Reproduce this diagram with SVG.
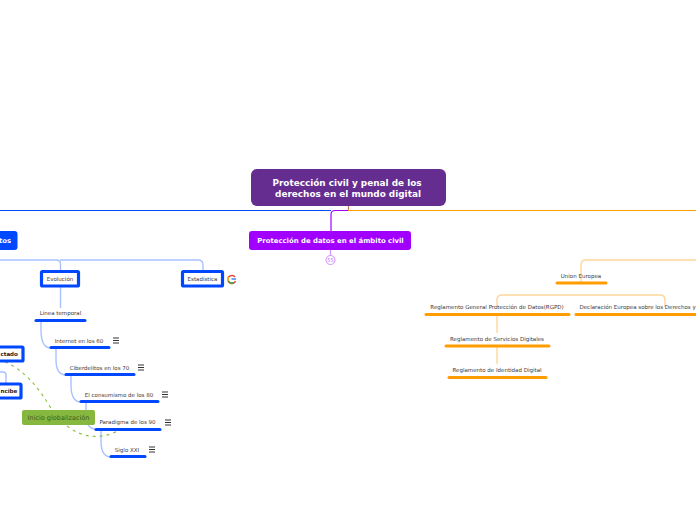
<svg xmlns="http://www.w3.org/2000/svg" width="696" height="520" viewBox="0 0 696 520">
<style>
text{font-family:"DejaVu Sans",Verdana,sans-serif;fill:#3a3a3a;font-size:5.500px;text-anchor:middle}
.b{font-weight:bold}
.w{fill:#fff;font-weight:bold}
.box{fill:#fff;stroke:#0048ff;stroke-width:3.200}
.ub{stroke:#0048ff;stroke-width:3;stroke-linecap:round;fill:none}
.uo{stroke:#ff9c00;stroke-width:3;stroke-linecap:round;fill:none}
.lb{stroke:#a9c1ff;stroke-width:1.400;fill:none}
.lo{stroke:#ffd699;stroke-width:1.400;fill:none}
.dash{stroke:#8fc24a;stroke-width:1.200;stroke-dasharray:3 4;fill:none}
.ham{stroke:#333;stroke-width:1}
</style>
<g id="connectors">
<path d="M0 210.500H331" stroke="#0048ff" stroke-width="1.200" fill="none"/>
<path d="M348 210.500H696" stroke="#ff9c00" stroke-width="1.200" fill="none"/>
<path d="M348.500 206V210" stroke="#c47a60" stroke-width="1.200" fill="none"/>
<path d="M348 210.500H335Q331 210.500 331 214.500V231" stroke="#a100ff" stroke-width="1.200" fill="none"/>
<path d="M330.500 250V255" stroke="#d08cff" stroke-width="1.200" fill="none"/>
<path class="lb" d="M0 260H56Q60.500 260 60.500 264V270M60 260H198Q203 260 203 265V270"/>
<path class="lb" d="M60.500 287V308"/>
<path class="lb" d="M41 321V330Q41 347 50 348"/>
<path class="lb" d="M56 349V360Q56 374 65 375"/>
<path class="lb" d="M71 376V385Q71 401 80 402"/>
<path class="lb" d="M86 403V412"/>
<path class="lb" d="M88 425Q91 429 95 429"/>
<path class="lb" d="M101 431V441Q101 456 110 457"/>
<path class="lb" d="M0 372H3Q6 372 6 375V384"/>
<path class="dash" d="M5 362Q30 372 52 410"/>
<path class="dash" d="M67 426Q90 444 118 431"/>
<path class="lo" d="M581 283V265Q581 260 586 260H696"/>
<path class="lo" d="M497 307V300Q497 295 502 295H660Q665 295 665 300V307"/>
<path class="lo" d="M497 316V333M497 347V364"/>
</g>
<g id="root"><rect x="251" y="169" width="195" height="37" rx="6" fill="#662d91"/><text class="w" x="347" y="186" style="font-size:8.900px">Protección civil y penal de los</text><text class="w" x="348" y="197" style="font-size:8.900px">derechos en el mundo digital</text></g>
<g id="proteccion-datos"><rect x="249" y="231" width="162" height="19" rx="3" fill="#a100ff"/><text class="w" x="330.500" y="243" style="font-size:6.900px">Protección de datos en el ámbito civil</text><circle cx="330.500" cy="260" r="4.500" fill="#fff" stroke="#d08cff"/><text x="330.500" y="262" style="font-size:5px;fill:#c070ff">55</text></g>
<g id="left-topic"><rect x="-40" y="231" width="57.500" height="19" rx="3" fill="#0048ff"/><text class="w" x="5" y="243" style="font-size:6.900px">tos</text></g>
<g id="evolucion"><rect class="box" x="41.500" y="271.500" width="37" height="14.500" rx="1"/><text x="60" y="281">Evolución</text></g>
<g id="estadistica"><rect class="box" x="182.500" y="271.500" width="40" height="14.500" rx="1"/><text x="202.500" y="281">Estadística</text>
<path d="M235 277A4 4 0 1 0 235.500 281" fill="none" stroke="#ea4335" stroke-width="1.500"/><path d="M231.500 279H236" stroke="#4285f4" stroke-width="1.500"/><path d="M228 277V281" stroke="#fbbc05" stroke-width="1.500"/><path d="M228.500 281A4 4 0 0 0 234 282.500" fill="none" stroke="#34a853" stroke-width="1.500"/></g>
<g id="linea"><text x="60.500" y="315">Línea temporal</text><path class="ub" d="M36 320.500H85"/></g>
<g id="internet"><text x="79" y="343">Internet en los 60</text><path class="ub" d="M51 347.500H109"/><path class="ham" d="M113 338H119M113 340.500H119M113 343H119"/></g>
<g id="ciber"><text x="99.500" y="370">Ciberdelitos en los 70</text><path class="ub" d="M66 374.500H134"/><path class="ham" d="M138 365H144M138 367.500H144M138 370H144"/></g>
<g id="consumismo"><text x="119" y="397">El consumismo de los 80</text><path class="ub" d="M81 401.500H158"/><path class="ham" d="M162 392H168M162 394.500H168M162 397H168"/></g>
<g id="paradigma"><text x="127.500" y="424">Paradigma de los 90</text><path class="ub" d="M96 429.500H160"/><path class="ham" d="M165 420H171M165 422.500H171M165 425H171"/></g>
<g id="siglo"><text x="127" y="452">Siglo XXI</text><path class="ub" d="M111 456.500H145"/><path class="ham" d="M149 447H155M149 449.500H155M149 452H155"/></g>
<g id="afectado"><rect class="box" x="-30" y="347" width="53" height="14" rx="1"/><text class="b" x="0.500" y="356" style="fill:#222;text-anchor:start">ctado</text></g>
<g id="incibe"><rect class="box" x="-30" y="384" width="51" height="14" rx="1"/><text class="b" x="0.500" y="393" style="fill:#222;text-anchor:start">ncibe</text></g>
<g id="globalizacion"><rect x="22" y="410" width="73" height="15" rx="2" fill="#86b83f"/><text x="58.500" y="420" style="font-size:6.500px;fill:#3f5a1a">Inicio globalización</text></g>
<g id="union"><text x="581" y="278">Union Europea</text><path class="uo" d="M557 283H606"/></g>
<g id="rgpd"><text x="497" y="309">Reglamento General Protección de Datos(RGPD)</text><path class="uo" d="M426 314.500H569"/></g>
<g id="declaracion"><text x="579.500" y="309" style="text-anchor:start">Declaración Europea sobre los Derechos y</text><path class="uo" d="M576 314.500H696"/></g>
<g id="servicios"><text x="497" y="341">Reglamento de Servicios Digitales</text><path class="uo" d="M446 346H549"/></g>
<g id="identidad"><text x="497" y="372">Reglamento de Identidad Digital</text><path class="uo" d="M449 377.500H546"/></g>
</svg>
